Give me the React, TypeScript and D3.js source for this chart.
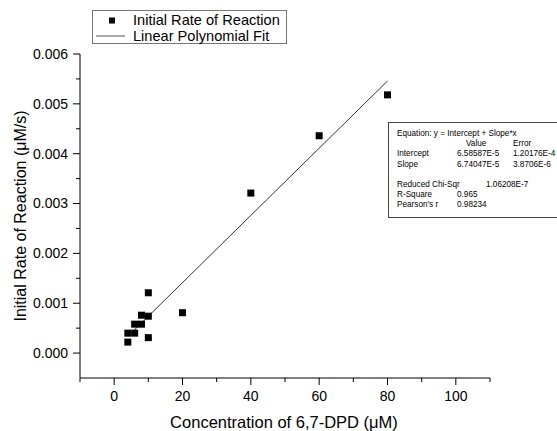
import React, { useEffect, useRef } from "react";
import * as d3 from "d3";

// concentration (uM) and initial rate (uM/s)
const concentration = [4, 4, 6, 6, 8, 8, 10, 10, 10, 20, 40, 60, 80];
const initialRate = [0.00022, 0.0004, 0.0004, 0.00058, 0.00058, 0.00076, 0.00074, 0.00031, 0.00121, 0.00081, 0.00321, 0.00436, 0.00518];

const intercept = 6.58587e-5;
const slope = 6.74047e-5;
const fitRange = [4, 80];

const xTicks = [0, 20, 40, 60, 80, 100];
const xMinorTicks = [-10, 10, 30, 50, 70, 90, 110];
const yTicks = [0, 0.001, 0.002, 0.003, 0.004, 0.005, 0.006];
const yMinorTicks = [0.0005, 0.0015, 0.0025, 0.0035, 0.0045, 0.0055];

const statsRows = [
  ["Equation: y = Intercept + Slope*x", "", ""],
  ["", "Value", "Error"],
  ["Intercept", "6.58587E-5", "1.20176E-4"],
  ["Slope", "6.74047E-5", "3.8706E-6"],
  ["", "", ""],
  ["Reduced Chi-Sqr", "", "1.06208E-7"],
  ["R-Square", "0.965", ""],
  ["Pearson's r", "0.98234", ""],
];

const ReactionChart = () => {
  const chartRef = useRef(null);

  useEffect(() => {
    const width = 557;
    const height = 431;
    const font = "'Liberation Sans', Arial, sans-serif";

    const svg = d3
      .select(chartRef.current)
      .attr("width", width)
      .attr("height", height)
      .style("font-family", font);

    const x = d3.scaleLinear().domain([-10, 110]).range([80, 490]);
    const y = d3.scaleLinear().domain([-0.0005, 0.006]).range([378, 54]);

    // x axis
    const gx = svg.append("g").attr("transform", `translate(0, ${y(-0.0005)})`);
    gx.append("line")
      .attr("x1", x(-10))
      .attr("x2", x(110))
      .attr("stroke", "#000");
    gx.selectAll(".major")
      .data(xTicks)
      .enter()
      .append("line")
      .attr("x1", (d) => x(d))
      .attr("x2", (d) => x(d))
      .attr("y2", 7)
      .attr("stroke", "#000");
    gx.selectAll(".minor")
      .data(xMinorTicks)
      .enter()
      .append("line")
      .attr("x1", (d) => x(d))
      .attr("x2", (d) => x(d))
      .attr("y2", 4)
      .attr("stroke", "#000");
    gx.selectAll("text")
      .data(xTicks)
      .enter()
      .append("text")
      .attr("x", (d) => x(d))
      .attr("y", 23)
      .attr("text-anchor", "middle")
      .style("font-size", "14px")
      .text((d) => d);

    // y axis
    const gy = svg.append("g").attr("transform", `translate(${x(-10)}, 0)`);
    gy.append("line")
      .attr("y1", y(-0.0005))
      .attr("y2", y(0.006))
      .attr("stroke", "#000");
    gy.selectAll(".major")
      .data(yTicks)
      .enter()
      .append("line")
      .attr("y1", (d) => y(d))
      .attr("y2", (d) => y(d))
      .attr("x2", -7)
      .attr("stroke", "#000");
    gy.selectAll(".minor")
      .data(yMinorTicks)
      .enter()
      .append("line")
      .attr("y1", (d) => y(d))
      .attr("y2", (d) => y(d))
      .attr("x2", -4)
      .attr("stroke", "#000");
    gy.selectAll("text")
      .data(yTicks)
      .enter()
      .append("text")
      .attr("x", -12)
      .attr("y", (d) => y(d))
      .attr("dy", "0.35em")
      .attr("text-anchor", "end")
      .style("font-size", "14px")
      .text((d) => d3.format(".3f")(d));

    // axis titles
    svg
      .append("text")
      .attr("x", 284)
      .attr("y", 428)
      .attr("text-anchor", "middle")
      .style("font-size", "16.5px")
      .text("Concentration of 6,7-DPD (\u03bcM)");
    svg
      .append("text")
      .attr("transform", `translate(26, ${(y(-0.0005) + y(0.006)) / 2}) rotate(-90)`)
      .attr("text-anchor", "middle")
      .style("font-size", "16px")
      .text("Initial Rate of Reaction (\u03bcM/s)");

    // fit line
    svg
      .append("line")
      .attr("x1", x(fitRange[0]))
      .attr("y1", y(intercept + slope * fitRange[0]))
      .attr("x2", x(fitRange[1]))
      .attr("y2", y(intercept + slope * fitRange[1]))
      .attr("stroke", "#333")
      .attr("stroke-width", 1);

    // data points
    const size = 7;
    svg
      .selectAll(".pt")
      .data(concentration)
      .enter()
      .append("rect")
      .attr("x", (d) => x(d) - size / 2)
      .attr("y", (d, i) => y(initialRate[i]) - size / 2)
      .attr("width", size)
      .attr("height", size)
      .attr("fill", "#000");

    // legend
    const lg = svg.append("g");
    lg.append("rect")
      .attr("x", 92.5)
      .attr("y", 10.5)
      .attr("width", 194)
      .attr("height", 33)
      .attr("fill", "#fff")
      .attr("stroke", "#777");
    lg.append("rect")
      .attr("x", 109)
      .attr("y", 17.5)
      .attr("width", 6)
      .attr("height", 6)
      .attr("fill", "#000");
    lg.append("line")
      .attr("x1", 96)
      .attr("x2", 125)
      .attr("y1", 36)
      .attr("y2", 36)
      .attr("stroke", "#555");
    lg.append("text")
      .attr("x", 133)
      .attr("y", 25)
      .style("font-size", "14.6px")
      .text("Initial Rate of Reaction");
    lg.append("text")
      .attr("x", 133)
      .attr("y", 41)
      .style("font-size", "14.6px")
      .text("Linear Polynomial Fit");

    // stats table
    const st = svg.append("g");
    st.append("rect")
      .attr("x", 388.5)
      .attr("y", 122.5)
      .attr("width", 200)
      .attr("height", 95)
      .attr("fill", "#fff")
      .attr("stroke", "#444");
    const colX = [397, 457, 513];
    statsRows.forEach((row, i) => {
      row.forEach((cell, j) => {
        if (!cell) return;
        let cx = colX[j];
        if (i === 1 && j === 1) cx = 466;
        if (i === 5 && j === 2) cx = 486;
        st.append("text")
          .attr("x", cx)
          .attr("y", 136 + i * 10.2)
          .style("font-size", "8.2px")
          .text(cell);
      });
    });

    return () => {
      d3.select(chartRef.current).selectAll("*").remove();
    };
  }, []);

  return <svg ref={chartRef} style={{ position: "absolute", left: 0, top: 0, background: "#fff" }}></svg>;
};

export default function App() {
  return <ReactionChart />;
}
